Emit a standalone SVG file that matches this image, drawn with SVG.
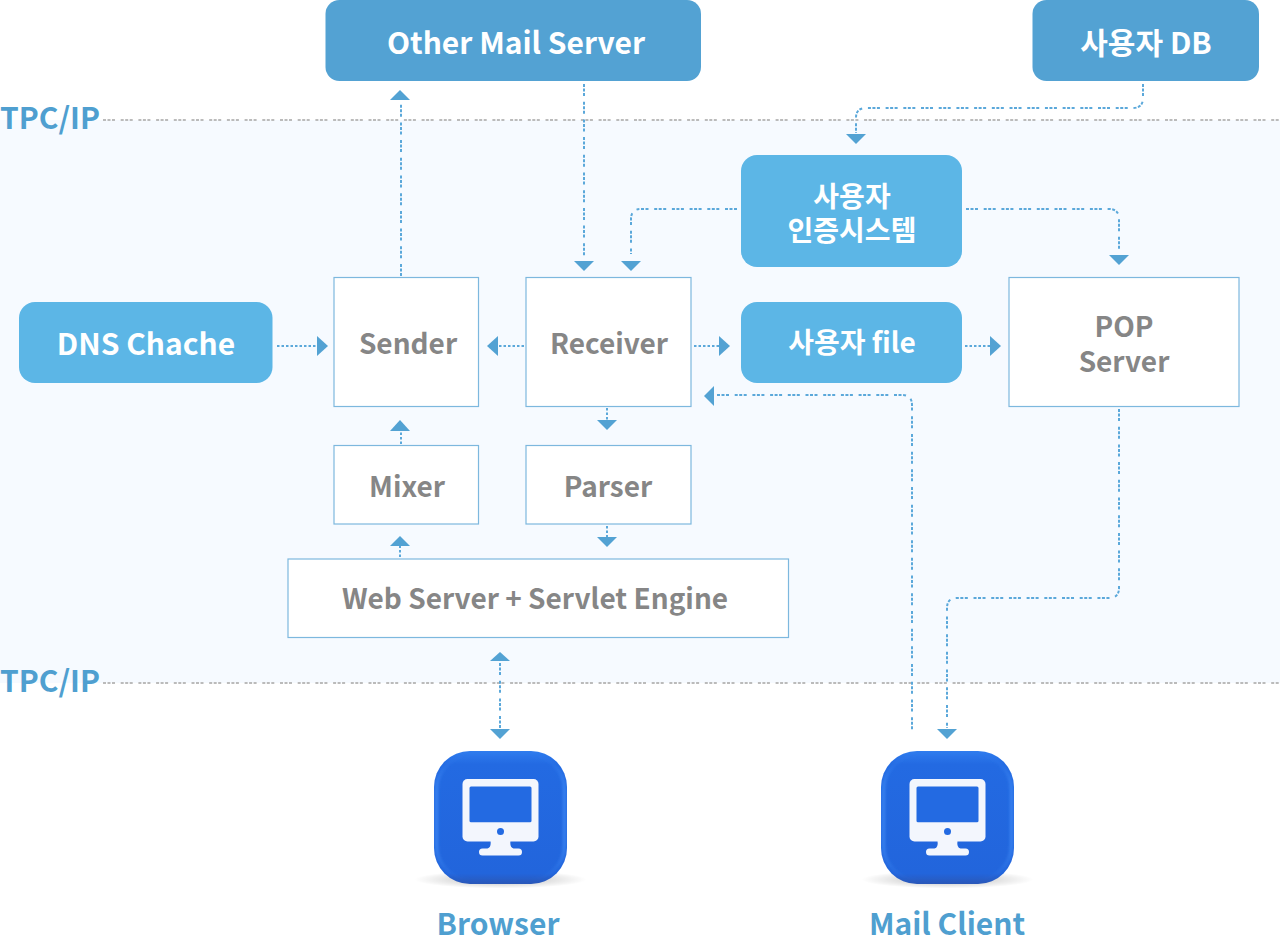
<svg xmlns="http://www.w3.org/2000/svg" width="1280" height="940" viewBox="0 0 1280 940">
<style>
text{font-family:"Noto Sans CJK KR","Noto Sans",sans-serif;font-weight:700;text-anchor:middle}
.t1{font-size:30px;fill:#fff}
.t1s{font-size:28px;fill:#fff}
.t2{font-size:28px;fill:#868686}
.t3{font-size:30px;fill:#4f9fd0}
.dk{fill:#53a2d3}
.lt{fill:#5cb6e6}
.box{fill:#fff;stroke:#7db8de;stroke-width:1.200}
.c{fill:none;stroke:#5ba8da;stroke-width:2;stroke-dasharray:2.500 2}
.cd{fill:none;stroke:#5ba8da;stroke-width:2;stroke-dasharray:3 1.500 3 1.500 3 5.700}
.sep{fill:none;stroke:#bbb;stroke-width:2;stroke-dasharray:3 1.500 3 1.500 3 5.700}
.ah{fill:#53a2d3}
</style>
<defs>
<linearGradient id="sq" x1="0" y1="0" x2="0" y2="1"><stop offset="0" stop-color="#2f7cee"/><stop offset="0.1" stop-color="#236ae2"/><stop offset="0.92" stop-color="#2265dc"/><stop offset="1" stop-color="#2a57b8"/></linearGradient>
<linearGradient id="bev" x1="0" y1="0" x2="0" y2="1"><stop offset="0" stop-color="#3f8cf6" stop-opacity="0"/><stop offset="0.25" stop-color="#3f8cf6" stop-opacity="0.75"/><stop offset="0.75" stop-color="#3f8cf6" stop-opacity="0.75"/><stop offset="1" stop-color="#3f8cf6" stop-opacity="0"/></linearGradient>
<radialGradient id="sh" cx="0.5" cy="0.5" r="0.5"><stop offset="0" stop-color="#000" stop-opacity="0.28"/><stop offset="1" stop-color="#000" stop-opacity="0"/></radialGradient>
<filter id="bl" x="-10%" y="-10%" width="120%" height="120%"><feGaussianBlur stdDeviation="1.500"/></filter>
<clipPath id="cp"><rect x="-66.500" y="-66.500" width="133" height="133" rx="36"/></clipPath>
<g id="mon">
<ellipse cx="0" cy="62" rx="86" ry="9" fill="url(#sh)"/>
<rect x="-66.500" y="-66.500" width="133" height="133" rx="36" fill="url(#sq)"/>
<g clip-path="url(#cp)"><rect x="-64" y="-62" width="128" height="124" rx="34" fill="none" stroke="url(#bev)" stroke-width="3" filter="url(#bl)"/></g>
<rect x="-38" y="-38.500" width="76" height="62.500" rx="5" fill="#f3f6fd"/>
<rect x="-31" y="-31" width="62" height="35.700" rx="1.500" fill="#236ae2"/>
<circle cx="0" cy="14" r="3.500" fill="#236ae2"/>
<path d="M-10 23H10Q9 30 13 31H18a3.500 3.500 0 0 1 0 7H-18a3.500 3.500 0 0 1 0-7H-13Q-9 30 -10 23Z" fill="#f3f6fd"/>
</g>
</defs>
<rect width="1280" height="940" fill="#fff"/>
<rect id="zone" x="0" y="120" width="1280" height="563" fill="#f6faff"/>
<g id="separators">
<path class="sep" d="M103 120H1280"/>
<path class="sep" d="M103 683H1280"/>
</g>
<text class="t3" x="50" y="129">TPC/IP</text>
<text class="t3" x="50" y="692">TPC/IP</text>
<g id="connectors">
<path class="cd" d="M401 276V100"/><path class="ah" d="M390 100H410L400 90Z"/>
<path class="cd" d="M584 84V260"/><path class="ah" d="M574 261H594L584 271Z"/>
<path class="cd" d="M1143 84V98Q1143 108 1133 108H866Q856 108 856 118V133"/><path class="ah" d="M846 134H866L856 144Z"/>
<path class="cd" d="M737 209H641Q631 209 631 219V254"/><path class="ah" d="M621 261H641L631 271Z"/>
<path class="cd" d="M966 209H1109Q1119 209 1119 219V254"/><path class="ah" d="M1109 255H1129L1119 265Z"/>
<path class="c" d="M277 346H316"/><path class="ah" d="M317 336V356L328 346Z"/>
<path class="c" d="M524 346H498"/><path class="ah" d="M498 336V356L487 346Z"/>
<path class="c" d="M694 346H719"/><path class="ah" d="M719 336V356L730 346Z"/>
<path class="c" d="M965 346H990"/><path class="ah" d="M990 336V356L1001 346Z"/>
<path class="c" d="M607 408V420"/><path class="ah" d="M597 420H617L607 430Z"/>
<path class="c" d="M401 444V431"/><path class="ah" d="M390 431H410L400 420Z"/>
<path class="c" d="M607 526V537"/><path class="ah" d="M597 537H617L607 547Z"/>
<path class="c" d="M400 557V546"/><path class="ah" d="M390 546H410L400 536Z"/>
<path class="cd" d="M500 663V729"/><path class="ah" d="M490 661H510L500 652Z"/><path class="ah" d="M490 729H510L500 739Z"/>
<path class="cd" d="M717 395H902Q912 395 912 405V731"/><path class="ah" d="M714 386V406L704 396Z"/>
<path class="cd" d="M1119 409V588Q1119 598 1109 598H957Q947 598 947 608V728"/><path class="ah" d="M937 729H957L947 739Z"/>
</g>
<g id="other-mail-server"><rect class="dk" x="325.500" y="0" width="375.500" height="81" rx="14"/><text class="t1" x="516" y="53.500">Other Mail Server</text></g>
<g id="user-db"><rect class="dk" x="1032.500" y="0" width="226.500" height="81" rx="14"/><text class="t1" x="1146" y="53.500">사용자 DB</text></g>
<g id="auth"><rect class="lt" x="741" y="155" width="221" height="112" rx="16"/><text class="t1s" x="852" y="206.500">사용자</text><text class="t1s" x="852" y="241">인증시스템</text></g>
<g id="dns"><rect class="lt" x="19" y="302" width="253.500" height="81" rx="16"/><text class="t1" x="146" y="354.500">DNS Chache</text></g>
<g id="sender"><rect class="box" x="334" y="277.500" width="144.500" height="129"/><text class="t2" x="408" y="353.500">Sender</text></g>
<g id="receiver"><rect class="box" x="526" y="277.500" width="165" height="129"/><text class="t2" x="609" y="353.500">Receiver</text></g>
<g id="user-file"><rect class="lt" x="741" y="302" width="221" height="81" rx="16"/><text class="t1s" x="852" y="353">사용자 file</text></g>
<g id="pop"><rect class="box" x="1009" y="277.500" width="230" height="129"/><text class="t2" x="1124" y="337">POP</text><text class="t2" x="1124" y="372">Server</text></g>
<g id="mixer"><rect class="box" x="334" y="445.500" width="144.500" height="78.500"/><text class="t2" x="407" y="496.500">Mixer</text></g>
<g id="parser"><rect class="box" x="526" y="445.500" width="165" height="78.500"/><text class="t2" x="608" y="496.500">Parser</text></g>
<g id="web"><rect class="box" x="288" y="559" width="500.500" height="78.500"/><text class="t2" x="535" y="609">Web Server + Servlet Engine</text></g>
<g id="browser"><use href="#mon" x="500.500" y="817.500"/><text class="t3" x="498" y="935">Browser</text></g>
<g id="mail-client"><use href="#mon" x="947.500" y="817.500"/><text class="t3" x="947" y="935">Mail Client</text></g>
</svg>
